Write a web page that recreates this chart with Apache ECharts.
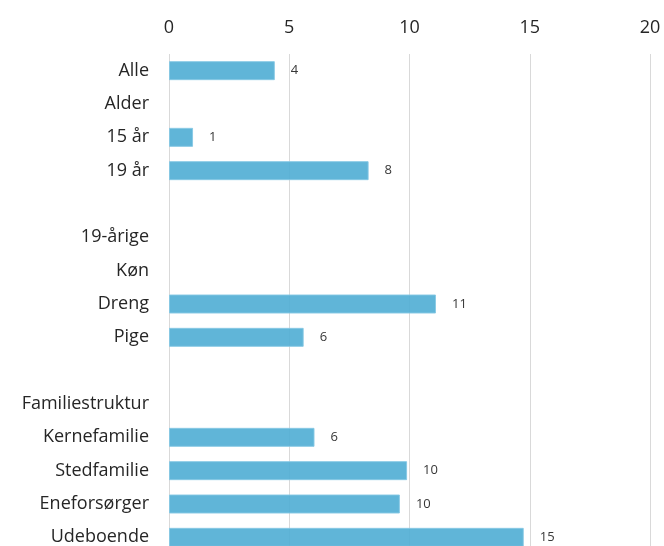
<!DOCTYPE html>
<html>
<head>
<meta charset="utf-8">
<script src="https://cdn.jsdelivr.net/npm/echarts@6/dist/echarts.min.js"></script>
<style>
html,body{margin:0;padding:0;background:#fff;}
#chart{width:664px;height:546px;}
</style>
</head>
<body>
<div id="chart"></div>
<script>
const categories = ['Alle','Alder','15 år','19 år','','19-årige','Køn','Dreng','Pige',' ','Familiestruktur','Kernefamilie','Stedfamilie','Eneforsørger','Udeboende'];
const values = [4.4, null, 1.0, 8.3, null, null, null, 11.1, 5.6, null, null, 6.05, 9.9, 9.6, 14.75];
const xTicks = [0, 5, 10, 15, 20];

const chart = echarts.init(document.getElementById('chart'), null, {renderer:'canvas'});
const font = '"Open Sans", sans-serif';
chart.setOption({
  animation: false,
  backgroundColor: '#fff',
  grid: {left: 169, top: 54, width: 481, height: 500, containLabel: false, outerBoundsMode: 'none'},
  xAxis: {
    type: 'value', position: 'top', min: xTicks[0], max: xTicks[xTicks.length-1], interval: 5,
    axisLine: {show: false}, axisTick: {show: false},
    axisLabel: {fontSize: 18, color: '#262626', fontFamily: font, margin: 17},
    splitLine: {show: true, lineStyle: {color: '#d9d9d9', width: 1}}
  },
  yAxis: {
    type: 'category', data: categories, inverse: true,
    axisLine: {show: false}, axisTick: {show: false},
    axisLabel: {fontSize: 18, color: '#262626', fontFamily: font, margin: 20},
    splitLine: {show: false}
  },
  series: [{
    type: 'bar', data: values, barWidth: 19,
    itemStyle: {color: '#53afd5', opacity: 0.92, borderColor: '#86c8e4', borderWidth: 1},
    label: {
      show: true, position: 'right', distance: 16, fontSize: 13, color: '#262626', fontFamily: font,
      formatter: p => p.value == null ? '' : String(Math.round(p.value))
    }
  }]
});
</script>
</body>
</html>
